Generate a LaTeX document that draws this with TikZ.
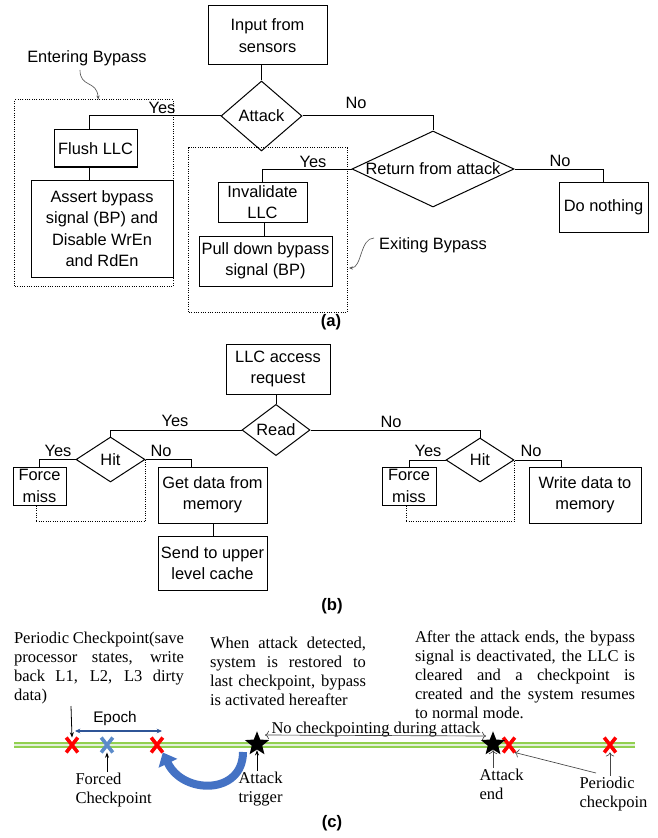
\documentclass[tikz,border=0pt]{standalone}
\usepackage{fontspec}
\setmainfont{Liberation Serif}
\setsansfont{Liberation Sans}
\usetikzlibrary{shapes.geometric,shapes.misc,arrows.meta,positioning}

\newcommand{\flowfont}{\sffamily\fontsize{12.3pt}{16pt}\selectfont}
\newcommand{\notefont}{\rmfamily\fontsize{12.4pt}{14.25pt}\selectfont}

\tikzset{every picture/.style={line width=0.75pt}}
\tikzset{
  flowbox/.style={draw, rectangle, align=center, inner sep=0.75pt, font=\flowfont},
  decision/.style={draw, diamond, inner sep=0pt, font=\flowfont},
  dotbox/.style={draw, densely dotted, inner sep=0pt},
  dotline/.style={densely dotted},
  lbl/.style={inner sep=0.75pt, font=\flowfont},
  tag/.style={inner sep=0.75pt, font=\sffamily\bfseries\fontsize{12.5pt}{15pt}\selectfont},
  curvy/.style={draw={rgb, 255:red, 90; green, 90; blue, 90 }, line width=0.5pt, -{Stealth[length=3pt,width=2.5pt]}},
  note/.style={inner sep=0.75pt, align=left, font=\notefont},
  timeline/.style={draw={rgb, 255:red, 146; green, 208; blue, 80 }, line width=0.9pt, double={rgb, 255:red, 226; green, 240; blue, 217 }, double distance=2.2pt},
  cpx/.style={cross out, draw, line width=2.7pt, minimum width=6pt, minimum height=8.5pt, inner sep=0pt},
  starmk/.style={star, star points=5, star point ratio=2.3, fill=black, inner sep=0pt, minimum size=19pt},
  thinarr/.style={line width=0.6pt, -{Stealth[length=4pt,width=3pt]}},
  grayarr/.style={draw={rgb, 255:red, 70; green, 70; blue, 70 }, line width=0.5pt, -{To[length=3pt]}},
  epocharr/.style={draw={rgb, 255:red, 47; green, 85; blue, 151 }, line width=1pt, {Stealth[length=4pt,width=3.5pt]}-{Stealth[length=4pt,width=3.5pt]}},
  restorearr/.style={draw={rgb, 255:red, 68; green, 114; blue, 196 }, line width=6pt, -{Triangle[width=15pt,length=9pt]}}
}

\begin{document}
\begin{tikzpicture}[x=0.75pt,y=0.75pt,yscale=-1,xscale=1]
\useasboundingbox (0,0) rectangle (657,838);

%%%%%%%%%% (a)
%Shape: Rectangle [dotted]
\node[dotbox, minimum width=118.9pt, minimum height=139.5pt] (entbox) at (94.25,193) {};
\node[dotbox, minimum width=118.9pt, minimum height=123pt] (extbox) at (268.25,230) {};
%Shape: Rectangle
\node[flowbox, minimum width=89.25pt, minimum height=44.25pt] (inp) at (267.5,35.5) {Input from\\sensors};
%Shape: Diamond
\node[decision, minimum width=60.75pt, minimum height=52.5pt] (att) at (261.5,116) {Attack};
%Shape: Diamond
\node[decision, shape aspect=2.13, minimum width=121.5pt, minimum height=57pt] (ret) at (433,169) {Return from attack};
%Shape: Rectangle
\node[flowbox, minimum width=62.25pt, minimum height=27.75pt] (flush) at (95.5,148.5) {Flush LLC};
\node[flowbox, minimum width=106.5pt, minimum height=72.75pt] (bp) at (102,228.5) {Assert bypass\\signal (BP) and\\Disable WrEn\\and RdEn};
\node[flowbox, minimum width=66.75pt, minimum height=30pt] (inv) at (262.5,202) {Invalidate\\LLC};
\node[flowbox, minimum width=99.75pt, minimum height=37.5pt] (pull) at (265.5,261) {Pull down bypass\\signal (BP)};
\node[flowbox, minimum width=66.75pt, minimum height=37.5pt] (dn) at (603.5,207) {Do nothing};

%Straight Lines
\draw (att.north) -- (att.north |- inp.south);
\path ([xshift=-4.5pt]flush.north) coordinate (fln);
\path ([xshift=-4.5pt]flush.south) coordinate (fls);
\draw (att.west) -| (fln);
\draw (fls) -- (fls |- bp.north);
\draw (att.east) -| (ret.north);
\draw (ret.west) -| (inv.north);
\path ([xshift=1.5pt]inv.south) coordinate (ivs);
\draw (ivs) -- (ivs |- pull.north);
\draw (ret.east) -| (dn.north);

% Text Node
\node[lbl] (ya1) at (162,107.5) {Yes};
\node[lbl] (na1) at (356,102.5) {No};
\node[lbl] (ya2) at (313,161.5) {Yes};
\node[lbl] (na2) at (560,161) {No};
\node[lbl] (entl) at (87,58) {Entering Bypass};
\node[lbl] (extl) at (433,245) {Exiting Bypass};

%Curve Lines
\coordinate (ens) at (80,70);
\draw[curvy] (ens) .. controls (80,88) and (97,80) .. ([xshift=3pt]entbox.north);
\coordinate (exs) at (374,238);
\coordinate (exe) at (349,268);
\draw[curvy] (exs) .. controls (360,238) and (362,268) .. (exe);

\node[tag] (taga) at (331,322) {(a)};

%%%%%%%%%% (b)
%Shape: Rectangle
\node[flowbox, minimum width=78pt, minimum height=37.5pt] (req) at (278,369) {LLC access\\request};
%Shape: Diamond
\node[decision, minimum width=51pt, minimum height=32.25pt] (read) at (276,430) {Read};
\node[decision, minimum width=51.75pt, minimum height=33.75pt] (hitl) at (110.5,459.5) {Hit};
\node[decision, minimum width=51pt, minimum height=33pt] (hitr) at (480,460) {Hit};
%Shape: Rectangle
\node[flowbox, minimum width=39.75pt, minimum height=28.5pt] (fml) at (39.5,486) {Force\\miss};
\node[flowbox, minimum width=81.75pt, minimum height=42pt] (get) at (212.5,495) {Get data from\\memory};
\node[flowbox, minimum width=81.75pt, minimum height=40.5pt] (send) at (212.5,563) {Send to upper\\level cache};
\node[flowbox, minimum width=40.5pt, minimum height=28.5pt] (fmr) at (409,486) {Force\\miss};
\node[flowbox, minimum width=84pt, minimum height=42pt] (wr) at (585,495) {Write data to\\memory};

%Straight Lines
\draw (read.north) -- (read.north |- req.south);
\draw (read.west) -| (hitl.north);
\draw (hitl.west) -| (fml.north);
\path ([xshift=-16pt]get.north) coordinate (gn);
\draw (hitl.east) -| (gn);
\path ([xshift=1pt]get.south) coordinate (gs);
\draw (gs) -- (gs |- send.north);
\draw (read.east) -| (hitr.north);
\draw (hitr.west) -| (fmr.north);
\path ([xshift=-18pt]wr.north) coordinate (wn);
\draw (hitr.east) -| (wn);
\path ([xshift=-2.6pt]fml.south) coordinate (flb);
\draw[dotline] (flb) -- ++(0,16) -| (hitl.east);
\path ([xshift=-2.25pt]fmr.south) coordinate (frb);
\draw[dotline] (frb) -- ++(0,16) -| (hitr.east);

% Text Node
\node[lbl] (yb1) at (175,421) {Yes};
\node[lbl] (yb2) at (58,451) {Yes};
\node[lbl] (nb2) at (161,451) {No};
\node[lbl] (nb1) at (391,422) {No};
\node[lbl] (yb3) at (428,451) {Yes};
\node[lbl] (nb3) at (531,451) {No};

\node[tag] (tagb) at (332,606) {(b)};

%%%%%%%%%% (c)
% Text Node
\node[note] (pcn) at (99,668) {\makebox[127.5pt][s]{Periodic Checkpoint(save}\\\makebox[127.5pt][s]{processor states, write}\\\makebox[127.5pt][s]{back L1, L2, L3 dirty}\\data)};
\node[note] (atn) at (288,671) {\makebox[117pt][s]{When attack detected,}\\\makebox[117pt][s]{system is restored to}\\\makebox[117pt][s]{last checkpoint, bypass}\\is activated hereafter};
\node[note] (aen) at (525,675) {\makebox[165pt][s]{After the attack ends, the bypass}\\\makebox[165pt][s]{signal is deactivated, the LLC is}\\\makebox[165pt][s]{cleared and a checkpoint is}\\\makebox[165pt][s]{created and the system resumes}\\to normal mode.};

%Straight Lines [timeline]
\coordinate (tl0) at (14,745);
\coordinate (tl1) at (635,745);
\draw[timeline] (tl0) -- (tl1);

%Shape: Cross
\node[cpx, draw={rgb, 255:red, 255; green, 0; blue, 0 }] (cp1) at (72,745) {};
\node[cpx, draw={rgb, 255:red, 91; green, 139; blue, 201 }] (fc) at (107,745) {};
\node[cpx, draw={rgb, 255:red, 255; green, 0; blue, 0 }] (cp2) at (157,745) {};
\node[cpx, draw={rgb, 255:red, 255; green, 0; blue, 0 }] (cp3) at (509,745) {};
\node[cpx, draw={rgb, 255:red, 255; green, 0; blue, 0 }] (cp4) at (610,745) {};
%Shape: Star
\node[starmk] (atk) at (257,744) {};
\node[starmk] (aend) at (493,744) {};

% Text Node
\node[lbl, font=\sffamily\fontsize{11.5pt}{14pt}\selectfont] (epoch) at (115,719) {Epoch};
\node[note, anchor=north west] (fcl) at (74,772) {Forced\\Checkpoint};
\node[note, anchor=north west] (atl) at (237,771) {Attack\\trigger};
\node[note, anchor=north west] (ael) at (478,768) {Attack\\end};
\node[note, anchor=north west] (pcl) at (578,776) {Periodic\\checkpoin};
\node[note, anchor=base west] (ncp) at (270,733) {No checkpointing during attack};

%Straight Lines [arrows]
\coordinate (pct) at (71,706);
\draw[thinarr] (pct) -- (cp1.north);
\coordinate (ep0) at (75,731);
\coordinate (ep1) at (162,731);
\draw[epocharr] (ep0) -- (ep1);
\draw[thinarr] (fc.south |- fcl.north) -- (fc.south);
\draw[thinarr] (atk.south |- atl.north) -- (atk.south);
\draw[grayarr] (aend.south |- ael.north) -- (aend.south);
\draw[grayarr] (cp4.south |- pcl.north) -- (cp4.south);
\coordinate (pcd) at (596,773);
\draw[grayarr] (pcd) -- (cp3.south east);
\coordinate (nc0) at (265,735);
\coordinate (nc1) at (486,736);
\draw[grayarr, {To[length=3pt]}-{To[length=3pt]}] (nc0) -- (nc1);

%Curve Lines [restore]
\coordinate (rbk) at (243,752);
\draw[restorearr] (rbk) .. controls (243,795) and (183,795) .. (cp2.south east);

\node[tag] (tagc) at (332,823) {(c)};

\end{tikzpicture}
\end{document}
